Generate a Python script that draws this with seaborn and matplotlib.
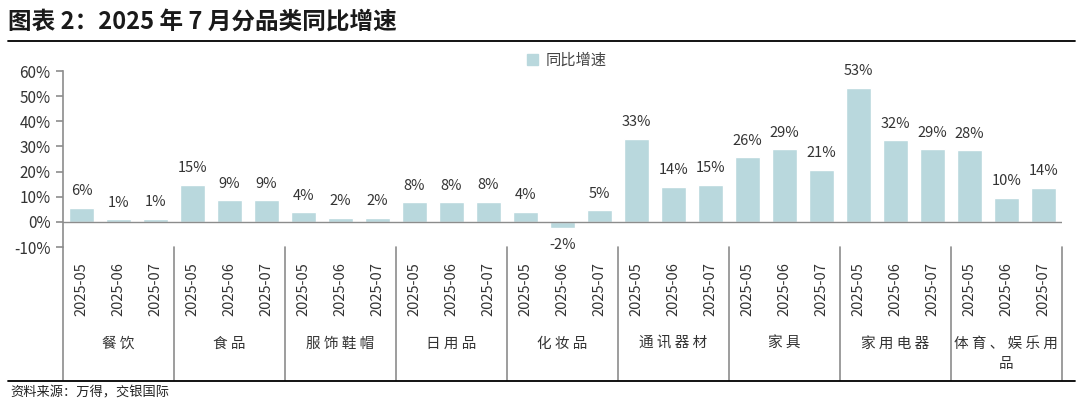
import numpy as np
import pandas as pd
import matplotlib
matplotlib.use("Agg")
import matplotlib.pyplot as plt
import matplotlib.transforms as mtransforms
from matplotlib.lines import Line2D
from matplotlib.patches import Patch
import seaborn as sns

# data (YoY growth, %)
categories = ["餐饮", "食品", "服饰鞋帽", "日用品", "化妆品", "通讯器材", "家具", "家用电器", "体育、娱乐用品"]
months = ["2025-05", "2025-06", "2025-07"]
growth = [5.7, 1.0, 1.1,
          14.6, 8.6, 8.6,
          3.8, 1.6, 1.6,
          7.8, 7.7, 8.0,
          4.1, -2.4, 4.6,
          33.1, 13.9, 14.8,
          25.7, 28.8, 20.6,
          53.3, 32.4, 28.8,
          28.4, 9.6, 13.6]
series_name = "同比增速"
title = "图表 2：2025 年 7 月分品类同比增速"
source = "资料来源：万得，交银国际"

bar_color = "#b9d8dd"
grid_gray = "#8c8c8c"
text_color = "#333333"

sns.set_theme(style="white")
plt.rcParams["font.family"] = ["Noto Sans CJK SC", "DejaVu Sans"]
plt.rcParams["axes.unicode_minus"] = False

df = pd.DataFrame({
    "category": np.repeat(categories, len(months)),
    "month": months * len(categories),
    "growth": growth,
})
df["slot"] = df["category"] + "|" + df["month"]

W, H = 1080, 417
fig = plt.figure(figsize=(W / 100, H / 100), dpi=100)
ax = fig.add_axes([63 / W, 1 - 247 / H, (1062 - 63) / W, (247 - 71) / H])

sns.barplot(data=df, x="slot", y="growth", color=bar_color, saturation=1,
            width=0.65, errorbar=None, ax=ax)

ax.set_ylim(-10, 60)
yt = list(range(-10, 61, 10))
ax.set_yticks(yt)
ax.set_yticklabels([f"{v}%" for v in yt])
ax.set_xticks(range(len(df)))
ax.set_xticklabels(df["month"], rotation=90)
ax.set_xlabel("")
ax.set_ylabel("")

for s in ["top", "right", "bottom"]:
    ax.spines[s].set_visible(False)
ax.spines["left"].set_color(grid_gray)
ax.spines["left"].set_linewidth(1.2)
ax.axhline(0, color=grid_gray, lw=1.0)

ax.tick_params(axis="y", direction="out", length=5, width=1.2, color=grid_gray,
               labelsize=11, labelcolor=text_color, left=True, pad=4)
ax.tick_params(axis="x", length=0, pad=11, labelsize=10.5, labelcolor=text_color)

# value labels
for i, v in enumerate(df["growth"]):
    ax.annotate(f"{v:.0f}%", (i, v), xytext=(0, 7 if v >= 0 else -7),
                textcoords="offset points", ha="center",
                va="bottom" if v >= 0 else "top", fontsize=10.5, color=text_color)

# group separators and category names
trans = mtransforms.blended_transform_factory(ax.transData, ax.transAxes)
n = len(months)
for i in range(len(categories) + 1):
    x = i * n - 0.5
    ax.plot([x, x], [0, -0.756], transform=trans, color=grid_gray, lw=1.2,
            clip_on=False, scalex=False, scaley=False)
for i, cat in enumerate(categories):
    if len(cat) > 6:
        label = " ".join(cat[:6]) + "\n" + " ".join(cat[6:])
    else:
        label = " ".join(cat)
    ax.text(i * n + 1, -0.51, label, transform=trans, ha="center", va="top",
            fontsize=10.5, color=text_color, linespacing=1.6)
ax.set_xlim(-0.5, len(df) - 0.5)

# legend
fig.legend(handles=[Patch(color=bar_color, label=series_name)], loc="center",
           bbox_to_anchor=(0.525, 0.855), frameon=False, handlelength=0.7,
           handleheight=0.7, handletextpad=0.5, fontsize=11,
           labelcolor="#444444")

# title, rules, source
fig.text(8 / W, 1 - 22 / H, title, fontsize=17, fontweight="bold", va="center", color="#1a1a1a")
fig.add_artist(Line2D([8 / W, 1075 / W], [1 - 41 / H] * 2, color="black", lw=1.3))
fig.add_artist(Line2D([8 / W, 1075 / W], [1 - 381 / H] * 2, color="black", lw=1.3))
fig.text(10 / W, 1 - 393 / H, source, fontsize=9.5, va="center", color="#222222")

fig.savefig("out.png", dpi=100)
